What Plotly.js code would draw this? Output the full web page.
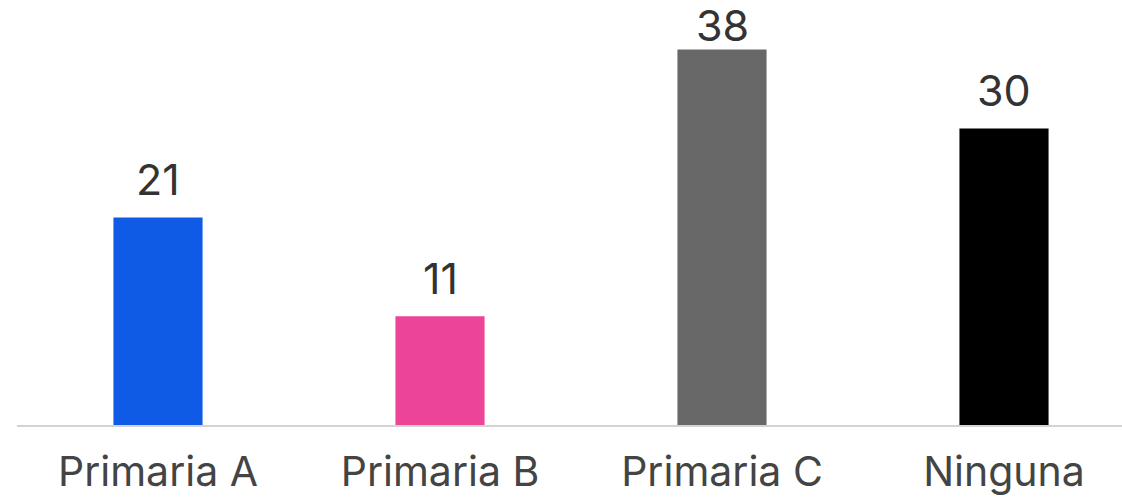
<!DOCTYPE html>
<html><head><meta charset="utf-8">
<script src="https://cdn.plot.ly/plotly-3.0.1.min.js"></script>
<style>html,body{margin:0;padding:0;overflow:hidden;background:#fff}#chart{width:1150px;height:498px}</style>
</head><body><div id="chart"></div>
<script>
const categories = ["Primaria A", "Primaria B", "Primaria C", "Ninguna"];
const values = [21, 11, 38, 30];
const barColors = ["#0F5BE5", "#EC4497", "#686868", "#000000"];

const yMax = 43.0;
const plotH = 425;
const pxPerUnit = plotH / yMax;
const trace = {
  type: "bar",
  x: categories,
  y: values,
  marker: {color: barColors},
  hoverinfo: "none"
};
// label shift above bar, squeezed down when it would leave the top of the chart
const annotations = categories.map((c, i) => {
  const barTop = plotH - values[i] * pxPerUnit;
  const room = barTop - 66;
  const shift = Math.max(-4, Math.min(10, room));
  return {
    x: c, y: values[i], xref: "x", yref: "y",
    text: String(values[i]), showarrow: false,
    yanchor: "bottom", yshift: shift,
    font: {family: "Inter, 'Noto Sans', sans-serif", size: 43, color: "#333333"}
  };
});
const layout = {
  width: 1150, height: 498,
  margin: {l: 17, r: 5, t: 0, b: 73},
  paper_bgcolor: "#ffffff", plot_bgcolor: "#ffffff",
  bargap: 0.684,
  showlegend: false,
  xaxis: {
    showline: true, linecolor: "#d3d3d3", linewidth: 2,
    showgrid: false, zeroline: false, ticks: "",
    tickfont: {family: "Inter, 'Noto Sans', sans-serif", size: 41, color: "#444444"},
    ticklabelstandoff: 10
  },
  yaxis: {range: [0, yMax], visible: false, showgrid: false, zeroline: false, fixedrange: true},
  annotations: annotations
};
Plotly.newPlot("chart", [trace], layout, {displayModeBar: false, staticPlot: true});
</script></body></html>
